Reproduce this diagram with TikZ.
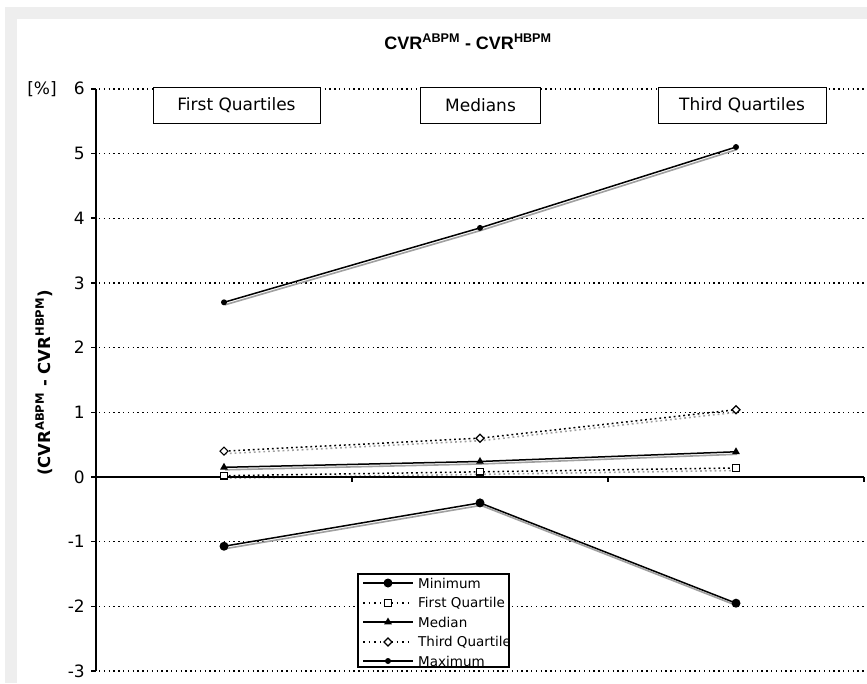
\documentclass[tikz,border=0pt]{standalone}
\usepackage{fontspec}
\setmainfont{DejaVu Sans}
\newfontfamily\arialfont{Liberation Sans}
\usetikzlibrary{shapes.geometric}
\definecolor{framegray}{HTML}{EEEEEE}
\definecolor{shadowgray}{HTML}{A0A0A0}
\tikzset{
  grid/.style={line width=1.4pt, dash pattern=on 1.4pt off 3.4pt, black},
  axisline/.style={line width=2pt, black},
  tickmark/.style={line width=1.5pt, black},
  ticklab/.style={font=\fontsize{17}{17}\selectfont, anchor=east, inner sep=0pt},
  catbox/.style={draw, line width=1pt, fill=white, minimum height=36pt, font=\fontsize{17}{17}\selectfont, inner sep=0pt},
  sline/.style={line width=1.5pt, black},
  dline/.style={line width=1.5pt, black, dash pattern=on 1.8pt off 3pt},
  shline/.style={line width=1.6pt, shadowgray},
  shdline/.style={line width=1.6pt, shadowgray, dash pattern=on 1.8pt off 3pt},
  mkmin/.style={circle, fill=black, inner sep=0pt, minimum size=9pt},
  mkmax/.style={circle, fill=black, inner sep=0pt, minimum size=6pt},
  mkqone/.style={rectangle, draw, fill=white, line width=1.2pt, inner sep=0pt, minimum size=6.5pt},
  mkmed/.style={regular polygon, regular polygon sides=3, fill=black, inner sep=0pt, minimum size=9pt},
  mkqthree/.style={diamond, draw, fill=white, line width=1.2pt, inner sep=0pt, minimum size=8.5pt},
  legtext/.style={anchor=west, inner sep=0pt, font=\fontsize{13.5}{13.5}\selectfont}
}
\begin{document}
\begin{tikzpicture}[x=1pt,y=-1pt]
\useasboundingbox (0,0) rectangle (867,683);
\fill[white] (0,0) rectangle (867,683);
\fill[framegray] (5,7) rectangle (867,683);
\fill[white] (17,19) rectangle (867,683);

% title
\node[anchor=base, inner sep=0pt, font=\arialfont\bfseries\fontsize{18}{18}\selectfont] (title) at (468,49)
  {CVR\textsuperscript{ABPM} - CVR\textsuperscript{HBPM}};

% y label
\node[rotate=90, inner sep=0pt, font=\bfseries\fontsize{16.5}{16.5}\selectfont] (ylab) at (44,383)
  {(CVR\textsuperscript{ABPM} - CVR\textsuperscript{HBPM})};
\node[inner sep=0pt, font=\fontsize{17}{17}\selectfont] (pct) at (42,89) {[\%]};

\begin{scope}[shift={(0,477)}, y={(0pt,64.7pt)}]
  % grid lines
  \foreach \v in {6,5,4,3,2,1,-1,-2,-3}
    \draw[grid] (99,\v) -- (864,\v);
  % tick labels
  \foreach \v in {6,5,4,3,2,1,0,-1,-2,-3}
    \node[ticklab] (t\v) at (85,\v) {\v};

  % data coordinates
  \coordinate (max1) at (224,2.70); \coordinate (max2) at (480,3.85); \coordinate (max3) at (736,5.10);
  \coordinate (min1) at (224,-1.07); \coordinate (min2) at (480,-0.40); \coordinate (min3) at (736,-1.95);
  \coordinate (qt1) at (224,0.40); \coordinate (qt2) at (480,0.60); \coordinate (qt3) at (736,1.04);
  \coordinate (md1) at (224,0.15); \coordinate (md2) at (480,0.24); \coordinate (md3) at (736,0.39);
  \coordinate (qo1) at (224,0.02); \coordinate (qo2) at (480,0.08); \coordinate (qo3) at (736,0.14);

  % shadows
  \foreach \s in {max,min,md}
    \draw[shline] ([shift={(1pt,-2.5pt)}]\s1) -- ([shift={(1pt,-2.5pt)}]\s2) -- ([shift={(1pt,-2.5pt)}]\s3);
  \foreach \s in {qt,qo}
    \draw[shdline] ([shift={(1pt,-2.5pt)}]\s1) -- ([shift={(1pt,-2.5pt)}]\s2) -- ([shift={(1pt,-2.5pt)}]\s3);

  % axes
  \draw[axisline] (96,-3) -- (96,6);
  \foreach \v in {6,5,4,3,2,1,0,-1,-2,-3}
    \draw[tickmark] (91,\v) -- (96,\v);
  \draw[axisline] (96,0) -- (864,0);
  \foreach \xx in {352,608,864}
    \draw[tickmark] (\xx,0) -- ++(0pt,-5pt);

  % series
  \draw[sline] (max1) -- (max2) -- (max3);
  \draw[sline] (min1) -- (min2) -- (min3);
  \draw[sline] (md1) -- (md2) -- (md3);
  \draw[dline] (qt1) -- (qt2) -- (qt3);
  \draw[dline] (qo1) -- (qo2) -- (qo3);

  % markers
  \foreach \i in {1,2,3} {
    \node[mkmax] (pmax\i) at (max\i) {};
    \node[mkmin] (pmin\i) at (min\i) {};
    \node[mkqthree] (pqt\i) at (qt\i) {};
    \node[mkmed] (pmd\i) at (md\i) {};
    \node[mkqone] (pqo\i) at (qo\i) {};
  }
\end{scope}

% category boxes
\node[catbox, minimum width=167pt] (bfq) at (236.5,105) {First Quartiles};
\node[catbox, minimum width=120pt] (bmd) at (480.5,105) {Medians};
\node[catbox, minimum width=168pt] (btq) at (742,105) {Third Quartiles};

% legend
\node[draw, line width=1.5pt, fill=white, minimum width=151pt, minimum height=93pt, inner sep=0pt] (legend) at (433.5,620.5) {};
\begin{scope}
  \clip (358,574) rectangle (508,667);
  \coordinate (la1) at (363,583); \coordinate (lb1) at (413,583);
  \coordinate (la2) at (363,603); \coordinate (lb2) at (413,603);
  \coordinate (la3) at (363,622); \coordinate (lb3) at (413,622);
  \coordinate (la4) at (363,642); \coordinate (lb4) at (413,642);
  \coordinate (la5) at (363,661); \coordinate (lb5) at (413,661);
  \draw[sline] (la1) -- (lb1);
  \draw[line width=1.4pt, dash pattern=on 1.6pt off 4pt] (la2) -- (lb2);
  \draw[sline] (la3) -- (lb3);
  \draw[line width=1.4pt, dash pattern=on 1.6pt off 4pt] (la4) -- (lb4);
  \draw[sline] (la5) -- (lb5);
  \node[mkmin] (lm1) at (388,583) {};
  \node[mkqone] (lm2) at (388,603) {};
  \node[mkmed] (lm3) at (388,622) {};
  \node[mkqthree] (lm4) at (388,642) {};
  \node[mkmax] (lm5) at (388,661) {};
  \node[legtext] (lt1) at (418,583) {Minimum};
  \node[legtext] (lt2) at (418,603) {First Quartile};
  \node[legtext] (lt3) at (418,622) {Median};
  \node[legtext] (lt4) at (418,642) {Third Quartile};
  \node[legtext] (lt5) at (418,661) {Maximum};
\end{scope}
\end{tikzpicture}
\end{document}
